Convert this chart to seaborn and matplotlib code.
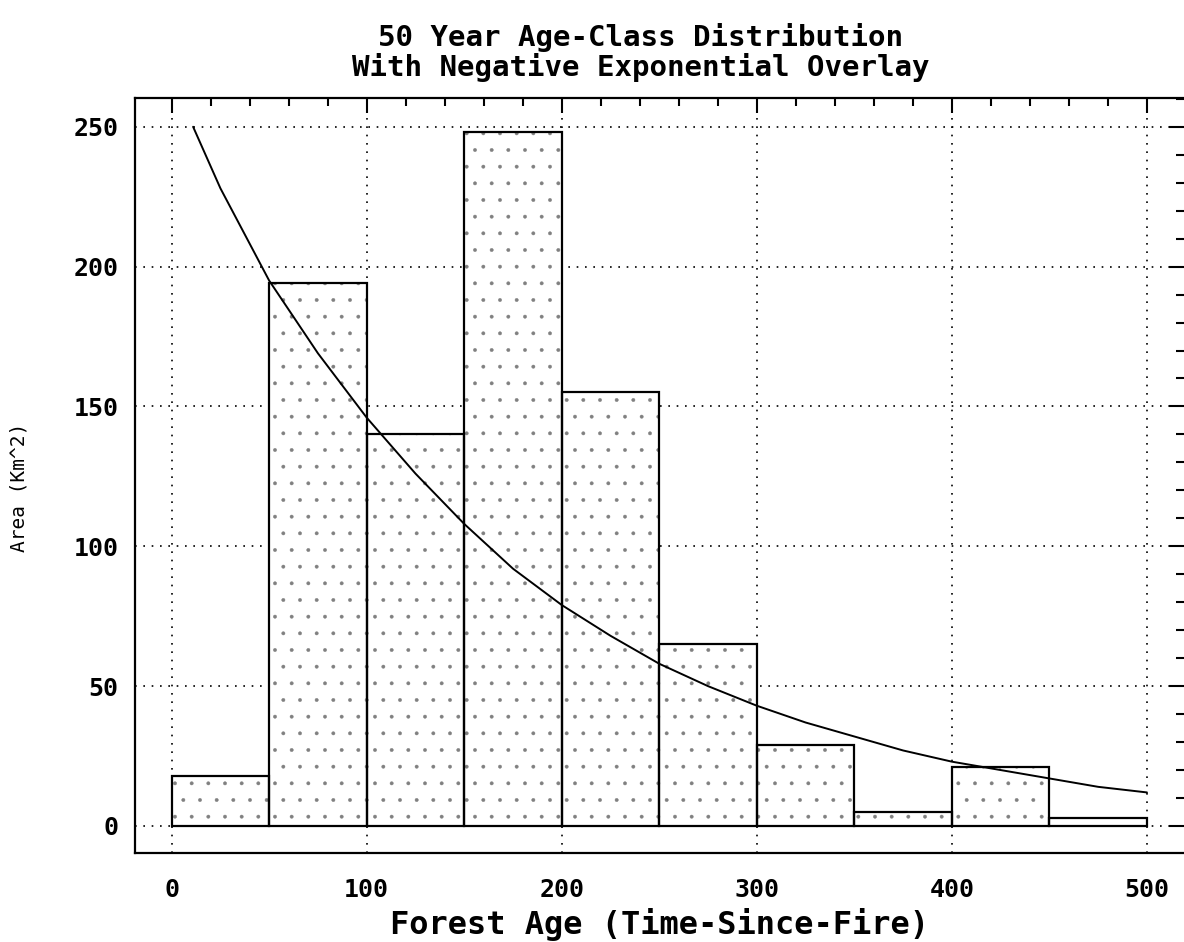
import matplotlib.pyplot as plt
import seaborn as sns
from matplotlib.ticker import MultipleLocator

# 50 year age classes (km^2 per class)
bin_edges = [0, 50, 100, 150, 200, 250, 300, 350, 400, 450, 500]
class_mid = [25, 75, 125, 175, 225, 275, 325, 375, 425, 475]
area_km2 = [18, 194, 140, 248, 155, 65, 29, 5, 21, 3]

# negative exponential overlay
curve_age = [11, 25, 50, 75, 100, 125, 150, 175, 200, 225, 250,
             275, 300, 325, 350, 375, 400, 425, 450, 475, 500]
curve_area = [250, 228, 195, 169, 146, 126, 108, 92, 79, 68, 58,
              50, 43, 37, 32, 27, 23, 20, 17, 14, 12]

sns.set_style("white")
plt.rcParams["font.family"] = ["DejaVu Sans Mono"]
plt.rcParams["text.color"] = "black"
plt.rcParams["axes.labelcolor"] = "black"
plt.rcParams["hatch.linewidth"] = 0.3

fig = plt.figure(figsize=(11.84, 9.42), dpi=100)
ax = fig.add_axes([0.114, 0.0945, 0.886, 0.8015])

# dotted fill first (grey hatch), then the black outlines on top
sns.histplot(x=class_mid, weights=area_km2, bins=bin_edges, ax=ax,
             fill=True, facecolor="white", edgecolor="#808080",
             linewidth=0, hatch=".", alpha=1, zorder=2)
sns.histplot(x=class_mid, weights=area_km2, bins=bin_edges, ax=ax,
             fill=False, color="black", linewidth=1.6, zorder=2.5)
sns.lineplot(x=curve_age, y=curve_area, ax=ax, color="black",
             linewidth=1.4, zorder=3)

ax.set_xlim(-18.8, 519)
ax.set_ylim(-9.65, 260.3)
ax.xaxis.set_major_locator(MultipleLocator(100))
ax.xaxis.set_minor_locator(MultipleLocator(20))
ax.yaxis.set_major_locator(MultipleLocator(50))
ax.yaxis.set_minor_locator(MultipleLocator(10))

ax.set_axisbelow(True)
ax.grid(True, which="major", color="black", linewidth=1.2,
        linestyle=(0, (1, 4)))

ax.tick_params(which="both", direction="in", top=True, right=True,
               width=1.5, colors="black")
ax.tick_params(which="major", length=11)
ax.tick_params(which="minor", length=6)
ax.tick_params(axis="x", which="major", pad=18, labelsize=18)
ax.tick_params(axis="y", which="major", pad=12, labelsize=18)
for lab in ax.get_xticklabels() + ax.get_yticklabels():
    lab.set_fontweight("bold")

for side in ["left", "bottom", "top"]:
    ax.spines[side].set_linewidth(1.6)
    ax.spines[side].set_color("black")
ax.spines["right"].set_visible(False)

ax.set_xlabel("Forest Age (Time-Since-Fire)", fontsize=23,
              fontweight="bold", labelpad=4)
ax.set_ylabel("")
fig.text(0.016, 0.483, "Area (Km^2)", rotation=90, fontsize=14,
         ha="center", va="center")

fig.text(0.541, 0.96, "50 Year Age-Class Distribution", fontsize=21,
         fontweight="bold", ha="center", va="center")
fig.text(0.541, 0.928, "With Negative Exponential Overlay", fontsize=21,
         fontweight="bold", ha="center", va="center")

plt.savefig("out.png", dpi=100)
